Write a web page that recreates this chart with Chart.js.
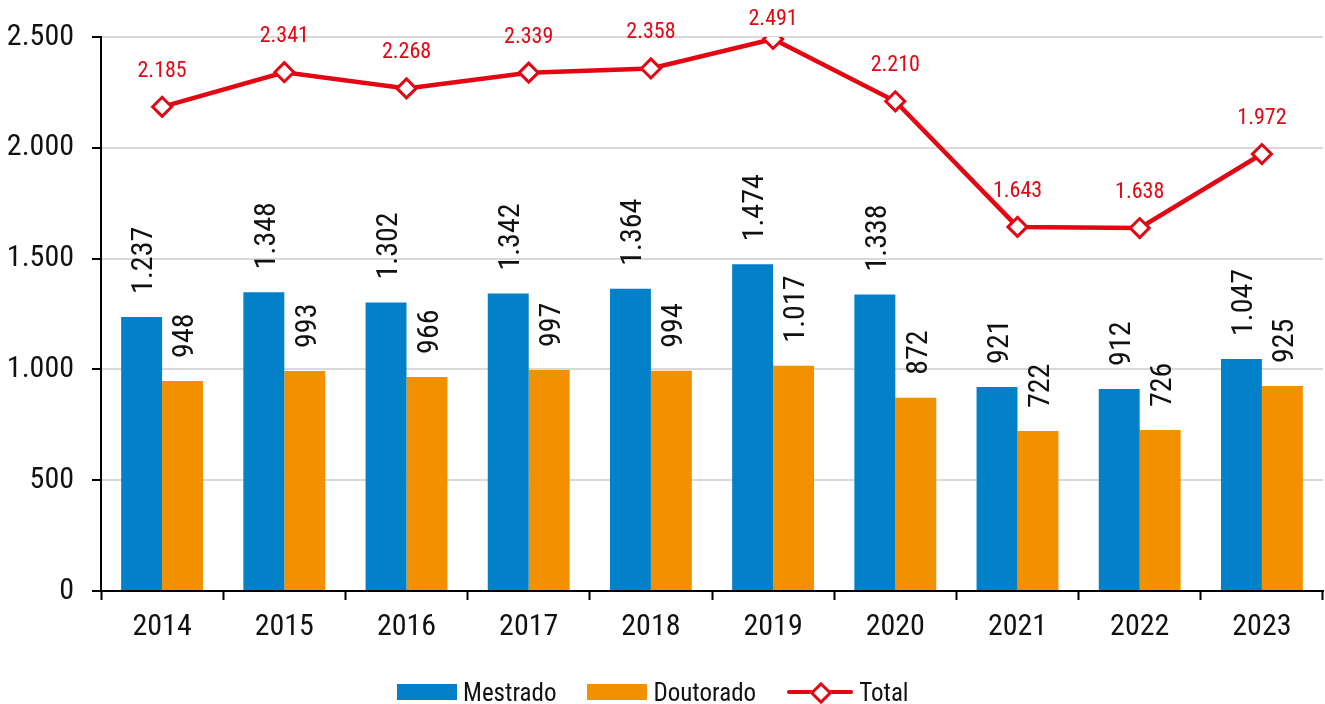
<!DOCTYPE html>
<html>
<head>
<meta charset="utf-8">
<script src="https://cdn.jsdelivr.net/npm/chart.js@4/dist/chart.umd.min.js"></script>
<style>
  html, body { margin: 0; padding: 0; background: #ffffff; }
  #wrap { position: relative; width: 1325px; height: 704px; }
  #legend {
    position: absolute; left: 397px; top: 674px; height: 36px;
    display: flex; justify-content: flex-start; align-items: center;
    font-family: 'Liberation Sans Narrow', 'Arial Narrow', 'Roboto Condensed', sans-serif;
    font-size: 25px; color: #111;
  }
  .item { display: flex; align-items: center; margin-right: 31px; }
  .box { width: 60px; height: 16px; margin-right: 6px; }
  .lineMark { position: relative; width: 66px; height: 22px; margin-right: 6px; }
  .lineMark .ln { position: absolute; left: 0; right: 0; top: 9px; height: 4px; background: #e30613; border-radius: 2px; }
  .lineMark .dm { position: absolute; left: 26px; top: 4px; width: 10px; height: 10px; background: #fff; border: 3px solid #e30613; transform: rotate(45deg); }
</style>
</head>
<body>
<div id="wrap">
  <canvas id="c" width="1325" height="704"></canvas>
  <div id="legend"></div>
</div>
<script>
const categories = ['2014','2015','2016','2017','2018','2019','2020','2021','2022','2023'];
const mestrado  = [1237, 1348, 1302, 1342, 1364, 1474, 1338, 921, 912, 1047];
const doutorado = [948, 993, 966, 997, 994, 1017, 872, 722, 726, 925];
const total     = [2185, 2341, 2268, 2339, 2358, 2491, 2210, 1643, 1638, 1972];
const seriesNames = ['Mestrado', 'Doutorado', 'Total'];
const yTicks = [0, 500, 1000, 1500, 2000, 2500];

const BLUE = '#0280c8';
const ORANGE = '#f39000';
const RED = '#e30613';
const FONT = "'Liberation Sans Narrow', 'Arial Narrow', 'Roboto Condensed', sans-serif";

function fmt(v) { return String(v).replace(/\B(?=(\d{3})+(?!\d))/g, '.'); }

const labelPlugin = {
  id: 'valueLabels',
  afterDatasetsDraw(chart) {
    const ctx = chart.ctx;
    ctx.save();
    [0, 1].forEach(di => {
      const meta = chart.getDatasetMeta(di);
      const data = chart.data.datasets[di].data;
      const fs = 30, capH = fs * 0.716;
      ctx.font = fs + 'px ' + FONT;
      ctx.fillStyle = '#111111';
      ctx.textAlign = 'left';
      ctx.textBaseline = 'alphabetic';
      meta.data.forEach((bar, i) => {
        ctx.save();
        ctx.translate(bar.x, bar.y - 23);
        ctx.rotate(-Math.PI / 2);
        ctx.fillText(fmt(data[i]), 0, capH / 2);
        ctx.restore();
      });
    });
    const meta = chart.getDatasetMeta(2);
    const data = chart.data.datasets[2].data;
    const fs2 = 22, capH2 = fs2 * 0.716;
    ctx.font = fs2 + 'px ' + FONT;
    ctx.fillStyle = RED;
    ctx.textAlign = 'center';
    ctx.textBaseline = 'alphabetic';
    meta.data.forEach((pt, i) => {
      const cy = Math.max(pt.y - 38, 17);
      ctx.fillText(fmt(data[i]), pt.x, cy + capH2 / 2);
    });
    ctx.restore();
  }
};

const chart = new Chart(document.getElementById('c'), {
  type: 'bar',
  data: {
    labels: categories,
    datasets: [
      { label: seriesNames[0], data: mestrado, backgroundColor: BLUE, order: 2,
        categoryPercentage: 0.67, barPercentage: 1.0 },
      { label: seriesNames[1], data: doutorado, backgroundColor: ORANGE, order: 2,
        categoryPercentage: 0.67, barPercentage: 1.0 },
      { label: seriesNames[2], data: total, type: 'line', order: 0,
        borderColor: RED, borderWidth: 4.5, fill: false, tension: 0,
        pointStyle: 'rectRot', pointRadius: 9.5, pointHoverRadius: 9.5,
        pointBorderWidth: 3, pointBackgroundColor: '#ffffff', pointBorderColor: RED }
    ]
  },
  options: {
    responsive: false,
    animation: false,
    events: [],
    layout: { autoPadding: false, padding: { top: 37, right: 2, bottom: 40, left: 0 } },
    plugins: { legend: { display: false }, tooltip: { enabled: false } },
    scales: {
      x: {
        grid: { display: true, offset: true, drawOnChartArea: false, drawTicks: true,
                tickLength: 9, tickColor: '#000000', tickWidth: 2, tickBorderDash: [] },
        border: { display: true, color: '#000000', width: 2 },
        ticks: { color: '#111111', font: { family: FONT, size: 30 }, padding: 9, maxRotation: 0 },
        afterFit(scale) { scale.height = 73; scale.paddingLeft = 0; scale.paddingRight = 0; }
      },
      y: {
        min: 0, max: 2500,
        afterBuildTicks(scale) { scale.ticks = yTicks.map(v => ({ value: v })); },
        grid: { color: '#d9d9d9', lineWidth: 2, borderDash: [13, 8], drawTicks: true,
                tickLength: 9, tickColor: '#000000', tickWidth: 2, tickBorderDash: [] },
        border: { display: true, color: '#000000', width: 2 },
        ticks: { color: '#111111', font: { family: FONT, size: 30 }, padding: 18,
                 callback: (v) => fmt(v) },
        afterFit(scale) { scale.width = 101; scale.paddingTop = 0; scale.paddingBottom = 0; }
      }
    }
  },
  plugins: [labelPlugin]
});

const lg = document.getElementById('legend');
chart.data.datasets.forEach((ds, i) => {
  const it = document.createElement('div');
  it.className = 'item';
  let mark = document.createElement('div');
  if (ds.type === 'line') {
    mark.className = 'lineMark';
    mark.innerHTML = '<div class="ln"></div><div class="dm"></div>';
  } else {
    mark.className = 'box';
    mark.style.background = ds.backgroundColor;
  }
  const tx = document.createElement('span');
  tx.textContent = ds.label;
  it.appendChild(mark);
  it.appendChild(tx);
  lg.appendChild(it);
});
</script>
</body>
</html>
